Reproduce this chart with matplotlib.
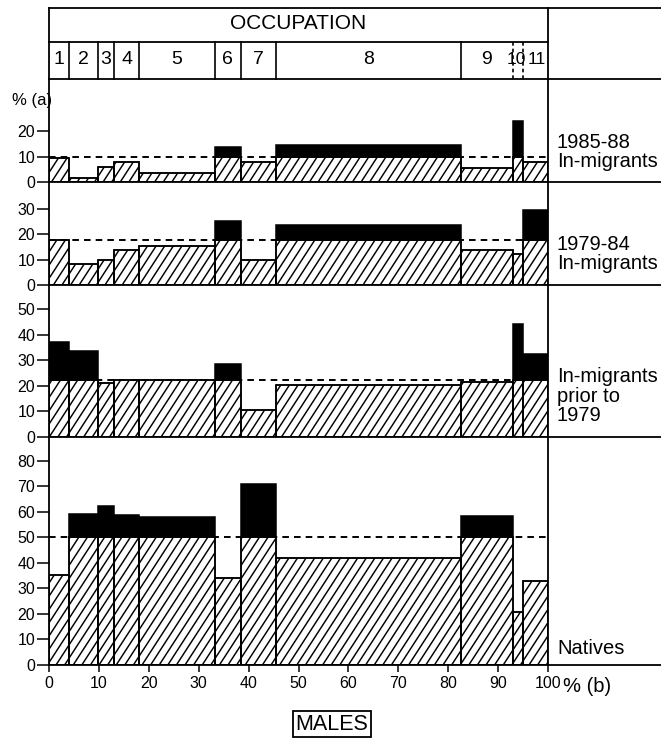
import matplotlib
matplotlib.use("Agg")
import matplotlib.pyplot as plt
from matplotlib.lines import Line2D
from matplotlib.collections import LineCollection
from matplotlib.transforms import IdentityTransform
import numpy as np

plt.rcParams['font.family'] = ['Liberation Sans', 'DejaVu Sans']

# Occupation groups and their share of the male workforce (cumulative %, x axis)
occupations = ['1', '2', '3', '4', '5', '6', '7', '8', '9', '10', '11']
occ_edges = [0, 4.0, 9.8, 13.0, 18.1, 33.2, 38.4, 45.5, 82.6, 92.9, 95.0, 100]

# Share of each occupation held by each origin group (% (a))
inmig_1985_88 = [9.5, 1.5, 6.0, 8.0, 3.7, 14.0, 8.0, 14.5, 5.6, 23.9, 7.9]
inmig_1979_84 = [17.7, 8.2, 9.9, 14.0, 15.6, 25.2, 9.9, 23.6, 14.0, 12.2, 29.7]
inmig_pre1979 = [37.0, 33.8, 21.0, 22.1, 22.1, 28.4, 10.3, 20.3, 21.6, 44.1, 32.6]
natives = [35.2, 59.1, 62.2, 58.8, 58.0, 34.1, 70.7, 42.0, 58.4, 20.5, 32.8]

# Overall share of each group across all occupations
group_avg = [10.0, 17.7, 22.3, 50.0]
group_labels = ['1985-88\nIn-migrants', '1979-84\nIn-migrants',
                'In-migrants\nprior to\n1979', 'Natives']
group_ticks = [[0, 10, 20], [0, 10, 20, 30], [0, 10, 20, 30, 40, 50],
               [0, 10, 20, 30, 40, 50, 60, 70, 80]]
x_ticks = [0, 10, 20, 30, 40, 50, 60, 70, 80, 90, 100]

series = [inmig_1985_88, inmig_1979_84, inmig_pre1979, natives]

W, H = 661, 738
fig = plt.figure(figsize=(W / 100, H / 100), dpi=100)


def fx(px):
    return px / W


def fy(py):
    return 1 - py / H


X0, X1 = 49, 548
HEAD_TOP, HEAD_MID, HEAD_BOT = 8.3, 41.7, 79.3
row_tops = [79.3, 182.3, 285.3, 436.7]
row_bots = [182.3, 285.3, 436.7, 664.7]
label_y = [152, 254, 396, 649]
PX_PER_UNIT = 2.55
LW = 1.1
FRAME_LW = 1.3

# Diagonal shading drawn in screen space, clipped to each bar
HATCH_ANGLE = np.deg2rad(57)
HATCH_STEP = 8.6
HATCH_LW = 1.05


def shade(ax, rect):
    x0d, y0d = ax.transData.transform((rect.get_x(), rect.get_y()))
    x1d, y1d = ax.transData.transform((rect.get_x() + rect.get_width(),
                                       rect.get_y() + rect.get_height()))
    if y1d - y0d < 0.5:
        return
    run = (y1d - y0d) / np.tan(HATCH_ANGLE)
    base = y0d / np.tan(HATCH_ANGLE)
    k0 = np.floor((x0d - run - base) / HATCH_STEP)
    k1 = np.ceil((x1d - base) / HATCH_STEP)
    segs = []
    for k in np.arange(k0, k1 + 1):
        c = k * HATCH_STEP + base
        segs.append([(c, y0d), (c + run, y1d)])
    lc = LineCollection(segs, colors='black', linewidths=HATCH_LW,
                        transform=IdentityTransform(), zorder=2.5)
    ax.add_collection(lc, autolim=False)
    lc.set_clip_path(rect)


lefts = np.array(occ_edges[:-1])
widths = np.diff(occ_edges)

for k, vals in enumerate(series):
    top, bot = row_tops[k], row_bots[k]
    ax = fig.add_axes([fx(X0), fy(bot), fx(X1) - fx(X0), (bot - top) / H])
    ax.set_xlim(0, 100)
    ax.set_ylim(0, (bot - top) / PX_PER_UNIT)
    v = np.array(vals)
    avg = group_avg[k]
    below = np.minimum(v, avg)
    above = np.where(v > avg, v - avg, 0)
    hatched = ax.bar(lefts, below, width=widths, align='edge', color='white',
                     edgecolor='black', linewidth=LW, zorder=2)
    for rect in hatched.patches:
        shade(ax, rect)
    # redraw outlines above the shading
    ax.bar(lefts, below, width=widths, align='edge', color='none',
           edgecolor='black', linewidth=LW, zorder=3)
    mask = above > 0
    ax.bar(lefts[mask], above[mask], bottom=avg, width=widths[mask],
           align='edge', color='black', edgecolor='black', linewidth=LW,
           zorder=3)
    ax.axhline(avg, color='black', linewidth=1.4, linestyle=(0, (3.4, 2.6)),
               zorder=4)
    for s in ax.spines.values():
        s.set_linewidth(FRAME_LW)
        s.set_zorder(5)
    ax.set_yticks(group_ticks[k])
    ax.tick_params(axis='y', direction='out', length=9, width=1.1, pad=1,
                   labelsize=11.5)
    if k == 3:
        ax.set_xticks(x_ticks)
        ax.tick_params(axis='x', direction='out', length=5, width=1.1, pad=3,
                       labelsize=11.5)
    else:
        ax.set_xticks([])
    fig.text(fx(557), fy(label_y[k]), group_labels[k], ha='left',
             va='center', fontsize=14.5, linespacing=1.05)

# Occupation header
hx = fig.add_axes([fx(X0), fy(HEAD_BOT), fx(X1) - fx(X0),
                   (HEAD_BOT - HEAD_TOP) / H])
hx.set_xlim(0, 100)
hx.set_ylim(0, 1)
hx.axis('off')
mid = (HEAD_BOT - HEAD_MID) / (HEAD_BOT - HEAD_TOP)
hx.plot([0, 0], [0, 1], color='black', lw=FRAME_LW, clip_on=False)
hx.plot([100, 100], [0, 1], color='black', lw=FRAME_LW, clip_on=False)
hx.plot([0, 100], [mid, mid], color='black', lw=FRAME_LW, clip_on=False)
for i, e in enumerate(occ_edges[1:-1], start=1):
    dashed = occupations[i] in ('10', '11')
    hx.plot([e, e], [0, mid], color='black', lw=1.2,
            linestyle=(0, (2.2, 1.8)) if dashed else '-', clip_on=False)
label_nudge = {'10': -0.25, '11': 0.3}
for i, name in enumerate(occupations):
    cx = (occ_edges[i] + occ_edges[i + 1]) / 2 + label_nudge.get(name, 0)
    fs = 12.5 if name in ('10', '11') else 14
    hx.text(cx, mid / 2 + 0.01, name, ha='center', va='center', fontsize=fs)
hx.text(50, (1 + mid) / 2 + 0.02, 'OCCUPATION', ha='center', va='center',
        fontsize=15)

# Frame lines running across the label column
for py, x_start in [(HEAD_TOP, X0), (HEAD_BOT, X1), (row_bots[0], X1),
                    (row_bots[1], X1), (row_bots[2], X1), (row_bots[3], X1)]:
    fig.add_artist(Line2D([fx(x_start), 1], [fy(py), fy(py)],
                          transform=fig.transFigure, color='black',
                          lw=FRAME_LW))

fig.text(fx(12), fy(100), '% (a)', ha='left', va='center', fontsize=12)
fig.text(fx(563), fy(686), '% (b)', ha='left', va='center', fontsize=14.5)
fig.text(fx(332), fy(724), 'MALES', ha='center', va='center', fontsize=15.5,
         bbox=dict(boxstyle='square,pad=0.12', fc='white', ec='black',
                   lw=1.3))

fig.savefig('out.png', dpi=100, facecolor='white')
